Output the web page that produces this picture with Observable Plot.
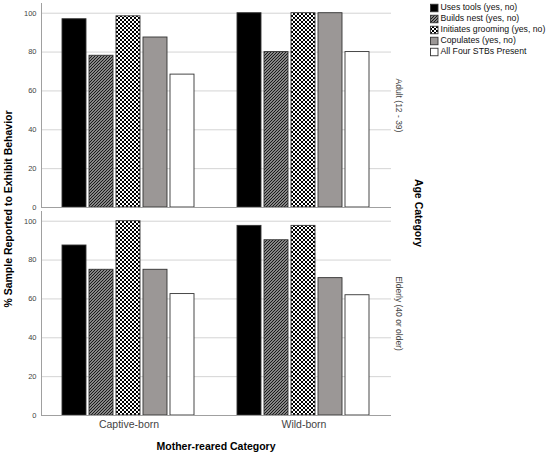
<!DOCTYPE html>
<html><head><meta charset="utf-8">
<script src="https://cdn.jsdelivr.net/npm/d3@7"></script>
<script src="https://cdn.jsdelivr.net/npm/@observablehq/plot@0.6"></script>
<style>body{margin:0;background:#fff} svg{display:block}</style>
</head><body><div id="chart"></div>
<script>
const ages = ["Adult (12 - 39)", "Elderly (40 or older)"];
const origins = ["Captive-born", "Wild-born"];
const behaviors = ["Uses tools (yes, no)", "Builds nest (yes, no)", "Initiates grooming (yes, no)", "Copulates (yes, no)", "All Four STBs Present"];
const adultCaptive = [96.9, 78.1, 98.4, 87.5, 68.4];
const adultWild = [100, 80, 100, 100, 80];
const elderlyCaptive = [87.5, 75, 100, 75, 62.5];
const elderlyWild = [97.6, 90.2, 97.6, 70.7, 61.9];
const yTicks = [0, 20, 40, 60, 80, 100];

const series = {
  [ages[0]]: {[origins[0]]: adultCaptive, [origins[1]]: adultWild},
  [ages[1]]: {[origins[0]]: elderlyCaptive, [origins[1]]: elderlyWild}
};
const table = [];
ages.forEach(a => origins.forEach(o => behaviors.forEach((b, i) =>
  table.push({age: a, origin: o, behavior: b, value: series[a][o][i]}))));

const fills = ["#000000", "url(#hatch)", "url(#checker)", "#9b9796", "#ffffff"];

const plot = Plot.plot({
  width: 550, height: 458,
  marginLeft: 41, marginRight: 159, marginTop: 2, marginBottom: 42,
  style: {fontFamily: "'Liberation Sans', Arial, sans-serif", background: "#fff", color: "#444", overflow: "visible"},
  fx: {domain: origins, padding: 0},
  fy: {domain: ages, padding: 0.019},
  x: {domain: behaviors, paddingInner: 0.111, paddingOuter: 0.796, axis: null},
  y: {domain: [0, 105]},
  color: {domain: behaviors, range: fills},
  marks: [
    Plot.ruleY(yTicks.slice(1), {stroke: "#d4d4d4", strokeWidth: 1}),
    Plot.barY(table, {fx: "origin", fy: "age", x: "behavior", y: "value", fill: "behavior", stroke: "#333", strokeWidth: 0.9}),
    Plot.ruleY([0], {stroke: "#a0a0a0"}),
    Plot.frame({anchor: "left", facetAnchor: "left", stroke: "#a0a0a0"}),
    Plot.axisY({ticks: yTicks, tickSize: 0, tickPadding: 5, fontSize: 7.5, label: null}),
    Plot.axisFx({anchor: "bottom", tickSize: 0, tickPadding: 5, fontSize: 10.5, label: null}),
    Plot.axisFy({anchor: "right", tickSize: 0, tickPadding: 4, tickRotate: 90, fontSize: 8.5, label: null, textAnchor: "middle", lineAnchor: "bottom"})
  ]
});

const svg = d3.select(plot);
const defs = svg.insert("defs", ":first-child");
const hatch = defs.append("pattern").attr("id", "hatch").attr("patternUnits", "userSpaceOnUse")
  .attr("width", 3).attr("height", 3);
hatch.append("rect").attr("width", 3).attr("height", 3).attr("fill", "#fff");
hatch.append("path").attr("d", "M-1,1 L1,-1 M0,3 L3,0 M2,4 L4,2").attr("stroke", "#1a1a1a").attr("stroke-width", 1.5);
const checker = defs.append("pattern").attr("id", "checker").attr("patternUnits", "userSpaceOnUse")
  .attr("width", 4).attr("height", 4);
checker.append("rect").attr("width", 4).attr("height", 4).attr("fill", "#000");
checker.append("rect").attr("x", 0).attr("y", 0).attr("width", 2).attr("height", 2).attr("fill", "#fff");
checker.append("rect").attr("x", 2).attr("y", 2).attr("width", 2).attr("height", 2).attr("fill", "#fff");

const titleFont = "'Liberation Sans', Arial, sans-serif";
svg.append("text").attr("transform", "translate(9,209) rotate(-90)")
  .attr("text-anchor", "middle").attr("dominant-baseline", "middle")
  .attr("font-weight", "bold").attr("font-size", 10.5).attr("fill", "#000").attr("font-family", titleFont)
  .text("% Sample Reported to Exhibit Behavior");
svg.append("text").attr("transform", "translate(418,213) rotate(90)")
  .attr("text-anchor", "middle").attr("dominant-baseline", "middle")
  .attr("font-weight", "bold").attr("font-size", 10.5).attr("fill", "#000").attr("font-family", titleFont)
  .text("Age Category");
svg.append("text").attr("x", 216).attr("y", 447)
  .attr("text-anchor", "middle").attr("dominant-baseline", "middle")
  .attr("font-weight", "bold").attr("font-size", 10.5).attr("fill", "#000").attr("font-family", titleFont)
  .text("Mother-reared Category");

const legend = svg.append("g").attr("font-family", titleFont).attr("font-size", 8.7).attr("text-anchor", "start");
behaviors.forEach((b, i) => {
  const cy = 8 + i * 11;
  legend.append("rect").attr("x", 430.5).attr("y", cy - 3.75).attr("width", 7.5).attr("height", 7.5)
    .attr("fill", fills[i]).attr("stroke", "#333").attr("stroke-width", 0.9);
  legend.append("text").attr("x", 440.5).attr("y", cy).attr("dominant-baseline", "middle")
    .attr("text-anchor", "start").attr("fill", "#111").text(b);
});

document.getElementById("chart").appendChild(plot);
</script></body></html>
